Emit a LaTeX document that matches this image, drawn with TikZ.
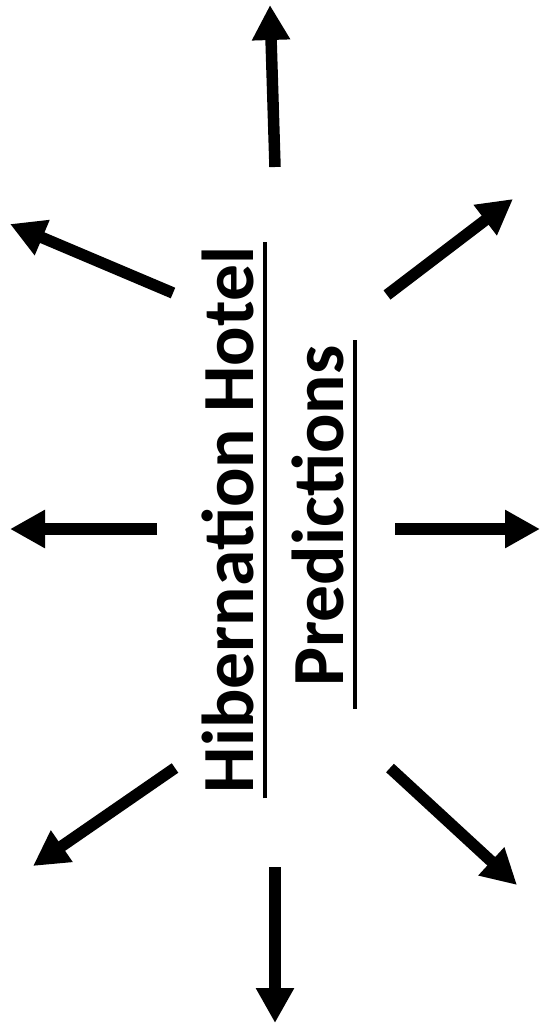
\documentclass[tikz,border=0pt]{standalone}
\usepackage{fontspec}
\setmainfont{Carlito}
\usetikzlibrary{arrows.meta}
\tikzset{
  bigarrow/.style={line width=11.5pt, -{Triangle[length=35pt,width=36pt]}},
  title/.style={rotate=90, anchor=base, inner sep=0pt, font=\fontsize{73.5}{80}\selectfont\bfseries},
  uline/.style={line width=4pt}
}
\begin{document}
\begin{tikzpicture}[x=1pt,y=-1pt]
\useasboundingbox (0,0) rectangle (542,1031);
% text
\node[title] (t1) at (253,520) {Hibernation Hotel};
\node[title] (t2) at (343,516) {Predictions};
\draw[uline] ([xshift=11.5pt,yshift=-5pt]t1.base west) -- ([xshift=11.5pt,yshift=5pt]t1.base east);
\draw[uline] ([xshift=12pt,yshift=-22pt]t2.base west) -- ([xshift=12pt,yshift=5pt]t2.base east);
% arrow coordinates
\coordinate (nT) at (275,167); \coordinate (nH) at (270,5);
\coordinate (nwT) at (173,293); \coordinate (nwH) at (10,224);
\coordinate (neT) at (387,295); \coordinate (neH) at (513,199);
\coordinate (wT) at (157,529); \coordinate (wH) at (10,529);
\coordinate (eT) at (395,529); \coordinate (eH) at (540,529);
\coordinate (swT) at (175,768); \coordinate (swH) at (33,866);
\coordinate (seT) at (390,768); \coordinate (seH) at (517,885);
\coordinate (sT) at (275,867); \coordinate (sH) at (275,1023);
\foreach \a in {n,nw,ne,w,e,sw,se,s}
  \draw[bigarrow] (\a T) -- (\a H);
\end{tikzpicture}
\end{document}
